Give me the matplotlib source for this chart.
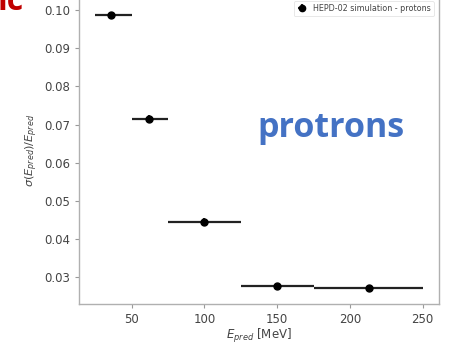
import matplotlib
matplotlib.use("Agg")
import matplotlib.pyplot as plt
import numpy as np

# data
bin_lo = [25, 50, 75, 125, 175]
bin_hi = [50, 75, 125, 175, 250]
e_pred = [36, 62, 100, 150, 213]
resolution = [0.0987, 0.0715, 0.0445, 0.0276, 0.0272]
res_err = [0.0003, 0.0009, 0.0011, 0.0003, 0.0003]
xticks = [50, 100, 150, 200, 250]
yticks = [0.03, 0.04, 0.05, 0.06, 0.07, 0.08, 0.09, 0.10]

W, H = 450, 346
fig = plt.figure(figsize=(W / 100, H / 100), dpi=100)
ax = fig.add_axes([79 / W, (H - 304) / H, (439 - 79) / W, (304 + 4) / H])

x = np.array(e_pred)
xerr = [x - np.array(bin_lo), np.array(bin_hi) - x]
ax.errorbar(x, resolution, xerr=xerr, yerr=res_err, fmt='o', color='black',
            ecolor='#222222', elinewidth=1.6, markersize=5, capsize=0,
            label='HEPD-02 simulation - protons')

ax.set_xlim(13.75, 261.25)
ax.set_ylim(0.02291, 0.10375)
ax.set_xticks(xticks)
ax.set_yticks(yticks)
ax.set_yticklabels([f"{v:.2f}" for v in yticks])

gray = '#444444'
for s in ax.spines.values():
    s.set_color('#b0b0b0')
    s.set_linewidth(1.0)
ax.tick_params(colors='#999999', labelcolor=gray, labelsize=8.5, length=3, width=0.8)

ax.set_xlabel(r'$E_{pred}$ [MeV]', fontsize=8.5, color=gray, labelpad=0.5)
ax.set_ylabel(r'$\sigma(E_{pred})/E_{pred}$', fontsize=8.2, color=gray, labelpad=3)

leg = ax.legend(loc='upper right', bbox_to_anchor=(434 / W, 1 - 1 / H),
                bbox_transform=fig.transFigure, borderaxespad=0, fontsize=5.8,
                frameon=True, fancybox=True, handlelength=1.2, markerscale=0.9)
leg.get_frame().set_edgecolor('#dddddd')
leg.get_frame().set_linewidth(0.6)
for t in leg.get_texts():
    t.set_color(gray)

fig.text(257 / W, 1 - 128 / H, 'protrons', color='#4472C4', fontsize=24.5,
         fontweight='bold', family='Open Sans', ha='left', va='center')
fig.text(-2 / W, 1 - 10 / H, 'ic', color='#C00000', fontsize=23,
         fontweight='bold', family='Open Sans', ha='left', va='baseline')

fig.savefig('out.png', dpi=100)
